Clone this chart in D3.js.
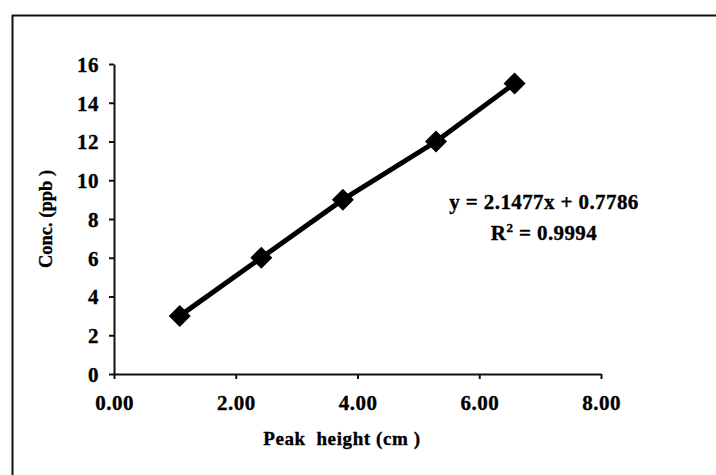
<!DOCTYPE html>
<html><head><meta charset="utf-8">
<script src="https://cdn.jsdelivr.net/npm/d3@7"></script>
<style>
html,body{margin:0;padding:0;background:#fff;}
svg{display:block;}
text{font-family:"Liberation Serif","Times New Roman",serif;font-weight:bold;fill:#000;stroke:#000;stroke-width:0.35px;}
</style></head>
<body>
<script>
const peakHeight = [1.08, 2.42, 3.76, 5.29, 6.58];
const conc = [3, 6, 9, 12, 15];
const xTicks = [0, 2, 4, 6, 8];
const yTicks = [0, 2, 4, 6, 8, 10, 12, 14, 16];
const xTitle = "Peak  height (cm )";
const yTitle = "Conc. (ppb )";
const eqLine = "y = 2.1477x + 0.7786";
const r2Value = "0.9994";

const W = 716, H = 475;
const svg = d3.select("body").append("svg").attr("width", W).attr("height", H);

// outer frame (top and left edges only visible)
svg.append("line").attr("x1",12).attr("x2",W).attr("y1",15.5).attr("y2",15.5).attr("stroke","#111").attr("stroke-width",2);
svg.append("line").attr("x1",12.5).attr("x2",12.5).attr("y1",15).attr("y2",H).attr("stroke","#111").attr("stroke-width",2);

const x = d3.scaleLinear().domain([0, 8]).range([114, 601]);
const y = d3.scaleLinear().domain([0, 16]).range([374, 64]);

const xAxis = svg.append("g").attr("transform", `translate(0,${y(0)})`)
  .call(d3.axisBottom(x).tickValues(xTicks).tickFormat(d3.format(".2f")).tickSize(5).tickPadding(16).tickSizeOuter(0));
const yAxis = svg.append("g").attr("transform", `translate(${x(0)},0)`)
  .call(d3.axisLeft(y).tickValues(yTicks).tickSize(5).tickPadding(10).tickSizeOuter(0));
[xAxis, yAxis].forEach(g => {
  g.select(".domain").attr("stroke","#111").attr("stroke-width",2);
  g.selectAll(".tick line").attr("stroke","#111").attr("stroke-width",2);
  g.selectAll(".tick text").style("font-family","'Liberation Serif',serif").style("font-weight","bold").style("font-size","21px").style("letter-spacing","0.5px").attr("fill","#000");
});
yAxis.selectAll(".tick text").attr("dy","0.35em");

// axis titles
svg.append("text").attr("x", 342).attr("y", 445).attr("text-anchor","middle").style("font-size","19px").style("letter-spacing","0.6px").style("white-space","pre").text(xTitle);
svg.append("text").attr("transform", `translate(52,219) rotate(-90)`).attr("text-anchor","middle").style("font-size","18.5px").style("white-space","pre").text(yTitle);

// data line
const pts = peakHeight.map((v,i)=>[v, conc[i]]);
svg.append("path").datum(pts)
  .attr("d", d3.line().x(d=>x(d[0])).y(d=>y(d[1])))
  .attr("fill","none").attr("stroke","#000").attr("stroke-width",5);

// diamond markers
const r = 11;
svg.selectAll("path.mk").data(pts).enter().append("path").attr("class","mk")
  .attr("transform", d=>`translate(${x(d[0])},${y(d[1])})`)
  .attr("d", `M0,${-r}L${r},0L0,${r}L${-r},0Z`)
  .attr("fill","#000");

// equation
svg.append("text").attr("x", 544).attr("y", 209).attr("text-anchor","middle").style("font-size","21px").style("letter-spacing","0.4px").text(eqLine);
const r2 = svg.append("text").attr("x", 544).attr("y", 240).attr("text-anchor","middle").style("font-size","21px").style("letter-spacing","0.4px");
r2.append("tspan").text("R");
r2.append("tspan").attr("dy","-8").style("font-size","13px").text("2");
r2.append("tspan").attr("dy","8").text(" = " + r2Value);
</script>
</body></html>
